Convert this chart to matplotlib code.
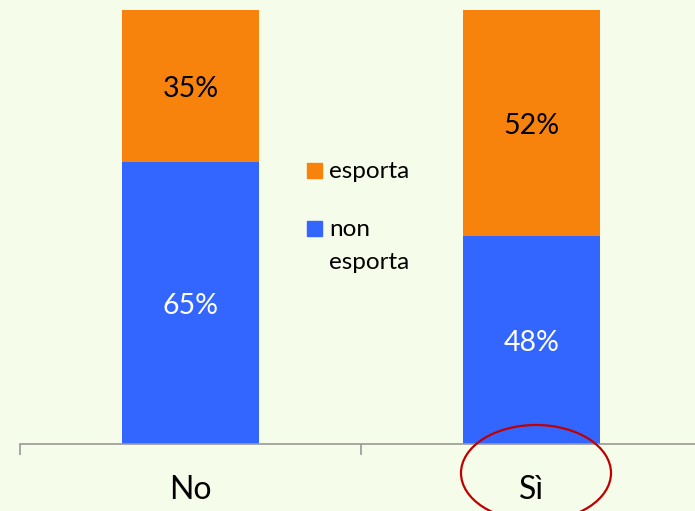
import matplotlib.pyplot as plt
from matplotlib.patches import Ellipse, Rectangle

categories = ['No', 'Sì']
non_esporta = [65, 48]
esporta = [35, 52]
series_names = ['esporta', 'non\nesporta']

bg = '#F5FCEA'
c_orange = '#F7830D'
c_blue = '#3366FF'

plt.rcParams['font.family'] = ['Lato', 'DejaVu Sans']

W, H = 695, 511
fig = plt.figure(figsize=(W / 100, H / 100), dpi=100, facecolor=bg)
# axes: left edge at x=20, bottom at y=444, top at y=10, extends past right edge
ax = fig.add_axes([20 / W, 1 - 444 / H, 682 / W, 434 / H])
ax.set_facecolor(bg)

x = range(len(categories))
ax.bar(x, non_esporta, width=0.4, color=c_blue)
ax.bar(x, esporta, width=0.4, bottom=non_esporta, color=c_orange)

for i in x:
    ax.text(i, non_esporta[i] / 2 - 0.8, '%d%%' % non_esporta[i], ha='center',
            va='center', color='white', fontsize=20.5)
    ax.text(i, non_esporta[i] + esporta[i] / 2 - 0.8, '%d%%' % esporta[i], ha='center',
            va='center', color='black', fontsize=20.5)

ax.set_xlim(-0.5, 1.5)
ax.set_ylim(0, 100)
for s in ['top', 'right', 'left']:
    ax.spines[s].set_visible(False)
ax.spines['bottom'].set_color('#999999')
ax.spines['bottom'].set_linewidth(1.2)
ax.set_yticks([])
ax.set_xticks([-0.5, 0.5, 1.5], minor=True)
ax.tick_params(axis='x', which='minor', length=8, color='#999999', width=1.2)
ax.tick_params(axis='x', which='major', length=0, pad=22, labelsize=23)
ax.set_xticks(list(x))
ax.set_xticklabels(categories)

# legend drawn by hand
fig.patches.append(Rectangle((307 / W, 1 - 178 / H), 15 / W, 15 / H,
                             transform=fig.transFigure, color=c_orange))
fig.patches.append(Rectangle((307 / W, 1 - 236 / H), 15 / W, 15 / H,
                             transform=fig.transFigure, color=c_blue))
fig.text(329 / W, 1 - 171 / H, series_names[0], fontsize=17.5, va='center', ha='left')
fig.text(329 / W, 1 - 246 / H, series_names[1], fontsize=17.5, va='center', ha='left',
         linespacing=1.65)

# red ellipse around "Sì"
fig.patches.append(Ellipse((536 / W, 1 - 473 / H), 150 / W, 96 / H,
                           transform=fig.transFigure, fill=False,
                           edgecolor='#C00000', linewidth=1.6))

fig.savefig('out.png', dpi=100, facecolor=bg)
